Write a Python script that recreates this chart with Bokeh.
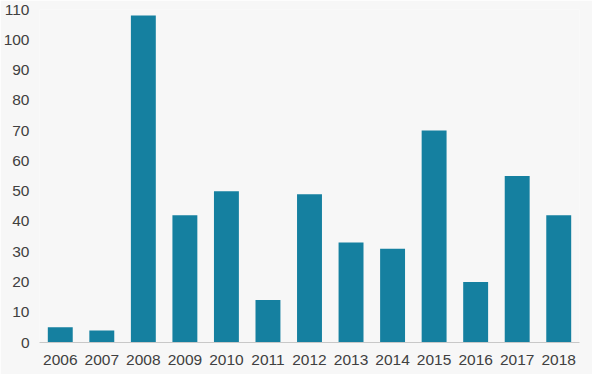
from bokeh.plotting import figure
from bokeh.models import Range1d, FixedTicker
from bokeh.embed import file_html
from bokeh.resources import INLINE

years = ["2006", "2007", "2008", "2009", "2010", "2011", "2012",
         "2013", "2014", "2015", "2016", "2017", "2018"]
values = [5, 4, 108, 42, 50, 14, 49, 33, 31, 70, 20, 55, 42]
y_ticks = [0, 10, 20, 30, 40, 50, 60, 70, 80, 90, 100, 110]

BG = "#f7f7f7"
p = figure(x_range=years, width=592, height=374, output_backend="svg",
           toolbar_location=None, background_fill_color=BG,
           border_fill_color=BG, outline_line_color=None,
           min_border_left=38, min_border_right=13,
           min_border_top=9, min_border_bottom=32)
p.y_range = Range1d(0, 110)
p.vbar(x=years, top=values, width=0.6, color="#1580a0", line_color=None)

p.xgrid.visible = False
p.ygrid.visible = False
p.yaxis.ticker = FixedTicker(ticks=y_ticks)
for ax in (p.xaxis[0], p.yaxis[0]):
    ax.major_tick_line_color = None
    ax.minor_tick_line_color = None
    ax.major_label_text_font = "Liberation Sans"
    ax.major_label_text_font_size = "15.5px"
    ax.major_label_text_color = "#404040"
p.yaxis.axis_line_color = None
p.yaxis.major_label_standoff = 4
p.xaxis.axis_line_color = "#c8c8c8"
p.xaxis.major_label_standoff = 6

open("out.html", "w").write(file_html(p, INLINE))
